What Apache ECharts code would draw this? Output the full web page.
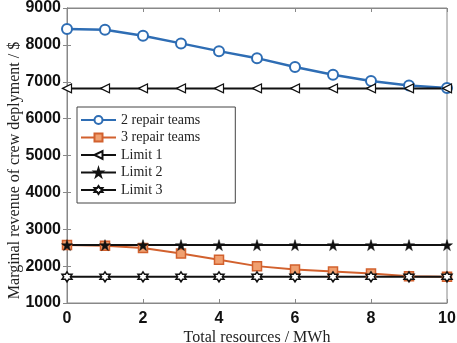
<!DOCTYPE html>
<html>
<head>
<meta charset="utf-8">
<script src="https://cdn.jsdelivr.net/npm/echarts@6/dist/echarts.min.js"></script>
<style>html,body{margin:0;padding:0;background:#fff}#main{width:457px;height:343px}</style>
</head>
<body>
<div id="main"></div>
<script>
// total resources (MWh)
var xs = [0, 1, 2, 3, 4, 5, 6, 7, 8, 9, 10];
var team2 = [8430, 8410, 8250, 8040, 7830, 7640, 7400, 7190, 7020, 6900, 6830];
var team3 = [2570, 2550, 2490, 2340, 2170, 2000, 1910, 1855, 1800, 1725, 1710];
var limit1 = [6820, 6820, 6820, 6820, 6820, 6820, 6820, 6820, 6820, 6820, 6820];
var limit2 = [2570, 2570, 2570, 2570, 2570, 2570, 2570, 2570, 2570, 2570, 2570];
var limit3 = [1710, 1710, 1710, 1710, 1710, 1710, 1710, 1710, 1710, 1710, 1710];
var names = ['2 repair teams', '3 repair teams', 'Limit 1', 'Limit 2', 'Limit 3'];

var starPath = 'path://M50,0 L61.8,36.2 L100,36.2 L69.1,58.8 L80.9,95.1 L50,72.7 L19.1,95.1 L30.9,58.8 L0,36.2 L38.2,36.2 Z';
var hexPath = 'path://M50,0 L64.4,25 L93.3,25 L78.9,50 L93.3,75 L64.4,75 L50,100 L35.6,75 L6.7,75 L21.1,50 L6.7,25 L35.6,25 Z';

function pairs(ys) {
    return xs.map(function (x, i) { return [x, ys[i]]; });
}

var chart = echarts.init(document.getElementById('main'));
var axisLine = {show: true, lineStyle: {color: '#888', width: 1}};
var option = {
    animation: false,
    grid: {left: 67, right: 10, top: 8, bottom: 40, show: true, borderColor: '#888', borderWidth: 1,
        containLabel: false, outerBoundsMode: 'none'},
    legend: {
        orient: 'vertical',
        left: 77, top: 107,
        data: names,
        backgroundColor: '#fff',
        borderColor: '#444',
        borderWidth: 1,
        borderRadius: 0,
        padding: [6, 35, 6, 3],
        itemWidth: 35,
        itemHeight: 10,
        itemGap: 3.5,
        textStyle: {fontFamily: 'Liberation Serif', fontSize: 14, color: '#222'}
    },
    xAxis: [{
        type: 'value', min: 0, max: 10, interval: 2,
        name: 'Total resources / MWh', nameLocation: 'middle', nameGap: 27, nameMoveOverlap: false,
        nameTextStyle: {fontFamily: 'Liberation Serif', fontSize: 16, color: '#222'},
        axisLine: axisLine,
        axisTick: {show: true, inside: true, length: 4, lineStyle: {color: '#888'}},
        axisLabel: {fontFamily: 'Liberation Sans', fontWeight: 'bold', fontSize: 16, color: '#111', margin: 8},
        splitLine: {show: false}
    }, {
        type: 'value', min: 0, max: 10, interval: 2, position: 'top',
        axisLine: axisLine,
        axisTick: {show: true, inside: true, length: 4, lineStyle: {color: '#888'}},
        axisLabel: {show: false},
        splitLine: {show: false}
    }],
    yAxis: [{
        type: 'value', min: 1000, max: 9000, interval: 1000,
        name: 'Marginal revenue of crew deplyment / $', nameLocation: 'middle', nameGap: 44, nameMoveOverlap: false,
        nameTextStyle: {fontFamily: 'Liberation Serif', fontSize: 16, color: '#222', padding: [0, 30, 0, 0]},
        axisLine: axisLine,
        axisTick: {show: true, inside: true, length: 4, lineStyle: {color: '#888'}},
        axisLabel: {fontFamily: 'Liberation Sans', fontWeight: 'bold', fontSize: 16, color: '#111', margin: 6,
            formatter: function (v) { return String(v); }},
        splitLine: {show: false}
    }, {
        type: 'value', min: 1000, max: 9000, interval: 1000, position: 'right',
        axisLine: axisLine,
        axisTick: {show: true, inside: true, length: 4, lineStyle: {color: '#888'}},
        axisLabel: {show: false},
        splitLine: {show: false}
    }],
    series: [{
        name: names[0], type: 'line', data: pairs(team2),
        symbol: 'circle', symbolSize: 10, showAllSymbol: true,
        lineStyle: {color: '#2e6db4', width: 2.5},
        itemStyle: {color: '#fff', borderColor: '#2e6db4', borderWidth: 2}
    }, {
        name: names[1], type: 'line', data: pairs(team3),
        symbol: 'rect', symbolSize: 9,
        lineStyle: {color: '#d2612e', width: 2},
        itemStyle: {color: '#f0a070', borderColor: '#d2612e', borderWidth: 1.5}
    }, {
        name: names[2], type: 'line', data: pairs(limit1),
        symbol: 'triangle', symbolRotate: 90, symbolSize: 9,
        lineStyle: {color: '#111', width: 2},
        itemStyle: {color: '#fff', borderColor: '#111', borderWidth: 1.2}
    }, {
        name: names[3], type: 'line', data: pairs(limit2),
        symbol: starPath, symbolSize: 11,
        lineStyle: {color: '#111', width: 2},
        itemStyle: {color: '#111', borderColor: '#111', borderWidth: 0.5}
    }, {
        name: names[4], type: 'line', data: pairs(limit3),
        symbol: hexPath, symbolSize: 10,
        lineStyle: {color: '#111', width: 2},
        itemStyle: {color: '#fff', borderColor: '#111', borderWidth: 1.5}
    }]
};
chart.setOption(option);
</script>
</body>
</html>
